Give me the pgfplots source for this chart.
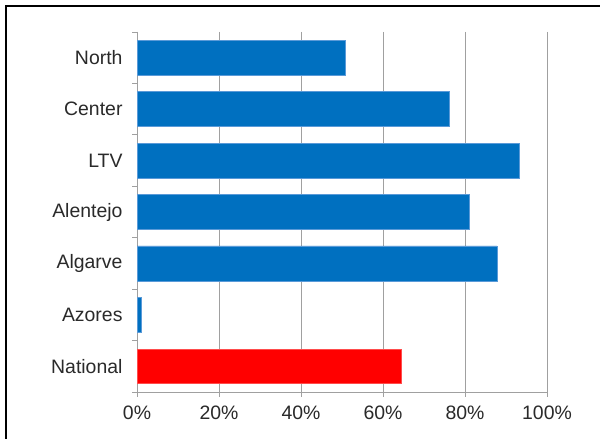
\documentclass[border=0pt]{standalone}
\usepackage{pgfplots}
\pgfplotsset{compat=1.18}
\usepackage{fontspec}
\setmainfont{Liberation Sans}
\definecolor{barblue}{HTML}{0070C0}
\definecolor{barblueedge}{HTML}{5A9AD8}
\definecolor{gridgray}{HTML}{A0A0A0}
\definecolor{txt}{HTML}{2A2A2A}
\begin{document}
\begin{tikzpicture}[x=1bp,y=1bp]
\useasboundingbox (0,0) rectangle (600,439);
\fill[white] (0,0) rectangle (600,439);
\begin{scope}
\clip (0,0) rectangle (600,439);
\draw[black,line width=2.2bp] (6,-5) -- (6,433) -- (610,433);
\end{scope}
\begin{axis}[
  at={(137bp,47bp)}, anchor=south west,
  scale only axis, width=410bp, height=360bp,
  xmin=0, xmax=100,
  ymin=-0.5, ymax=6.5, y dir=reverse,
  xtick={0,20,40,60,80,100},
  xticklabels={0\%,20\%,40\%,60\%,80\%,100\%},
  ytick={0,1,2,3,4,5,6},
  yticklabels={North,Center,LTV,Alentejo,Algarve,Azores,National},
  major tick length=0pt,
  axis x line*=bottom, axis y line*=left,
  axis line style={gridgray,line width=0.9bp,-},
  xmajorgrids, grid style={gridgray,line width=0.9bp},
  tick label style={font=\fontsize{19.5}{21}\selectfont, text=txt},
  xticklabel style={yshift=-10bp},
  yticklabel style={xshift=-11bp},
  xbar, bar width=0.68, bar shift=0pt,
  clip=false,
]
\addplot[fill=barblue, draw=barblueedge, line width=0.6bp] coordinates {
  (50.7,0) (76.1,1) (93.2,2) (81.0,3) (87.8,4) (1.0,5)
};
\addplot[fill=red, draw=red!70, line width=0.6bp] coordinates {
  (64.4,6)
};
\end{axis}
\begin{axis}[
  at={(137bp,47bp)}, anchor=south west,
  scale only axis, width=410bp, height=360bp,
  xmin=0, xmax=100, ymin=-0.5, ymax=6.5,
  axis x line*=bottom, axis y line*=left,
  axis line style={draw=none},
  xtick={0,20,40,60,80,100}, xticklabels={},
  ytick={-0.5,0.5,1.5,2.5,3.5,4.5,5.5,6.5}, yticklabels={},
  tick style={gridgray,line width=0.9bp},
  major tick length=5bp, tick align=outside,
]
\end{axis}
\end{tikzpicture}
\end{document}
